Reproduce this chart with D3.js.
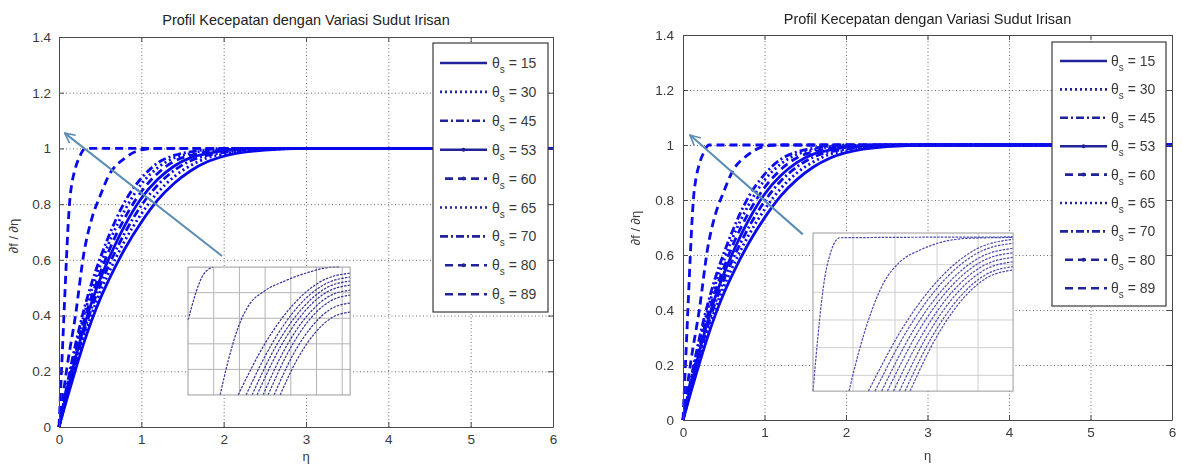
<!DOCTYPE html>
<meta charset="utf-8">
<script src="https://d3js.org/d3.v7.min.js"></script>
<style>
  body { margin: 0; background: #fff; }
  text { font-family: "Liberation Sans", Arial, sans-serif; }
</style>
<body>
  <div id="chart"></div>
</body>
<script>
  // ---- data ----
  const titleText = "Profil Kecepatan dengan Variasi Sudut Irisan";
  const xTicks = [0, 1, 2, 3, 4, 5, 6];
  const yTicks = [0, 0.2, 0.4, 0.6, 0.8, 1, 1.2, 1.4];
  const thetas = [15, 30, 45, 53, 60, 65, 70, 80, 89];

  // shared eta grid for the smooth profiles
  const eta = [0, 0.1, 0.2, 0.3, 0.4, 0.5, 0.6, 0.8, 1.0, 1.2, 1.4, 1.6, 1.8, 2.0, 2.5, 3, 6];
  const v15 = [0, .105, .205, .300, .385, .460, .525, .640, .735, .815, .875, .920, .952, .972, .994, 1, 1];
  const v30 = [0, .113, .219, .319, .408, .485, .551, .669, .765, .842, .899, .939, .966, .979, .996, 1, 1];
  const v45 = [0, .120, .233, .338, .430, .509, .577, .697, .795, .869, .921, .956, .975, .985, .998, 1, 1];
  const v53 = [0, .127, .247, .356, .451, .531, .601, .724, .821, .889, .937, .967, .981, .991, 1, 1, 1];
  const v60 = [0, .135, .262, .377, .472, .553, .628, .751, .845, .911, .954, .975, .987, .995, 1, 1, 1];
  const v65 = [0, .144, .279, .398, .496, .579, .656, .779, .872, .931, .966, .982, .994, .997, 1, 1, 1];
  const v70 = [0, .153, .296, .418, .520, .606, .682, .809, .893, .948, .975, .988, .996, 1, 1, 1, 1];
  const v80 = [0, .220, .400, .620, .750, .830, .900, .965, .995, 1, 1, 1, 1, 1, 1, 1, 1];
  // theta 89 rises much faster, own eta points
  const eta89 = [0, 0.03, 0.06, 0.09, 0.11, 0.13, 0.16, 0.19, 0.25, 0.32, 6];
  const v89 = [0, .20, .40, .60, .72, .81, .88, .92, .97, 1, 1];

  // zoomed inset curves, in inset-relative units (0..1)
  const insetCurvesL = [
    [[0, .586], [.093, .9375], [.154, 1]],
    [[.198, 0], [.249, .273], [.311, .534], [.383, .716], [.465, .807], [.609, .898], [.753, .963], [.877, .998], [.938, 1]],
    [[.309, 0], [.482, .417], [.655, .715], [.827, .893], [1, .953]],
    [[.358, 0], [.519, .403], [.679, .692], [.840, .864], [1, .922]],
    [[.395, 0], [.546, .390], [.698, .668], [.849, .835], [1, .891]],
    [[.426, 0], [.570, .376], [.713, .644], [.857, .805], [1, .859]],
    [[.463, 0], [.597, .359], [.732, .615], [.866, .769], [1, .820]],
    [[.494, 0], [.621, .342], [.747, .586], [.874, .732], [1, .781]],
    [[.531, 0], [.648, .315], [.766, .539], [.883, .674], [1, .719]],
    [[.568, 0], [.676, .284], [.784, .486], [.892, .608], [1, .648]]
  ];
  const insetCurvesR = [
    [[0, 0], [.068, .78], [.135, .97], [1, .975]],
    [[.18, 0], [.227, .239], [.277, .449], [.352, .682], [.435, .818], [.535, .892], [.652, .945], [.768, .966], [1, .972]],
    [[.277, 0], [.458, .420], [.639, .720], [.819, .900], [1, .960]],
    [[.310, 0], [.483, .409], [.655, .701], [.828, .877], [1, .935]],
    [[.343, 0], [.507, .395], [.672, .677], [.836, .847], [1, .903]],
    [[.372, 0], [.529, .383], [.686, .656], [.843, .820], [1, .875]],
    [[.402, 0], [.552, .370], [.701, .635], [.851, .793], [1, .846]],
    [[.432, 0], [.574, .358], [.716, .614], [.858, .767], [1, .818]],
    [[.460, 0], [.595, .344], [.730, .590], [.865, .738], [1, .787]],
    [[.485, 0], [.614, .335], [.743, .575], [.871, .718], [1, .766]]
  ];
  const insetGridXL = [0.1585, 0.317, 0.4755, 0.634, 0.7925, 0.951];
  const insetGridYL = [0.2, 0.4, 0.6, 0.8];
  const insetGridXR = [0.2, 0.41, 0.62, 0.825];
  const insetGridYR = [0.1, 0.275, 0.45, 0.625, 0.8];

  // ---- styles ----
  const dashFor = {
    15: null, 30: "2,3", 45: "8,3,2,3", 53: null, 60: "8,5",
    65: "2,3", 70: "8,3,2,3", 80: "8,5", 89: "8,5"
  };
  const markFor = { 53: true, 60: true, 80: true };

  const series = thetas.map((t, i) => {
    const vals = [v15, v30, v45, v53, v60, v65, v70, v80, v89][i];
    const xs = t === 89 ? eta89 : eta;
    return { theta: t, pts: xs.map((e, j) => [e, vals[j]]) };
  });

  // ---- layout of the two panels ----
  const panels = [
    {
      left: 59, right: 553, top: 37, bottom: 427,
      titleY: 25, xlabY: 461, ylabX: 18, ylabY: 236, tickPad: 4,
      legend: { x: 433, y: 43, w: 115, h: 269, first: 63, step: 28.9, l0: 440, l1: 487, tx: 492 },
      inset: { x0: 1.567, x1: 3.536, y0: 0.115, y1: 0.574, curves: insetCurvesL, gx: insetGridXL, gy: insetGridYL, col: "#30309a", grid: "#b4b4b4" },
      arrow: { x0: 1.98, y0: 0.614, x1: 0.07, y1: 1.055 },
      blur: false
    },
    {
      left: 683, right: 1172, top: 35, bottom: 420,
      titleY: 24, xlabY: 460, ylabX: 640, ylabY: 228, tickPad: 3,
      legend: { x: 1052, y: 42, w: 114, h: 264, first: 61, step: 28.4, l0: 1060, l1: 1107, tx: 1111 },
      inset: { x0: 1.595, x1: 4.05, y0: 0.105, y1: 0.68, curves: insetCurvesR, gx: insetGridXR, gy: insetGridYR, col: "#4a4ab0", grid: "#cfcfcf" },
      arrow: { x0: 1.47, y0: 0.675, x1: 0.086, y1: 1.036 },
      blur: true
    }
  ];

  const W = 1182, H = 467;
  const svg = d3.select("#chart").append("svg")
    .attr("width", W).attr("height", H);

  const defs = svg.append("defs");
  defs.append("filter").attr("id", "soft")
    .append("feGaussianBlur").attr("stdDeviation", 0.45);
  defs.append("marker")
    .attr("id", "head")
    .attr("viewBox", "0 0 12 12")
    .attr("refX", 11).attr("refY", 6)
    .attr("markerWidth", 12).attr("markerHeight", 12)
    .attr("markerUnits", "userSpaceOnUse")
    .attr("orient", "auto")
    .append("path")
    .attr("d", "M1,1 L11,6 L1,11")
    .attr("fill", "none")
    .attr("stroke", "#5b8cb4")
    .attr("stroke-width", 1.6);

  function drawPanel(p) {
    const g = svg.append("g");
    if (p.blur) g.attr("filter", "url(#soft)");

    const x = d3.scaleLinear().domain([0, 6]).range([p.left, p.right]);
    const y = d3.scaleLinear().domain([0, 1.4]).range([p.bottom, p.top]);
    const h = p.bottom - p.top, w = p.right - p.left;

    // dotted grid
    const gx = g.append("g").attr("transform", `translate(0,${p.bottom})`)
      .call(d3.axisBottom(x).tickValues(xTicks.slice(1, -1)).tickSize(-h).tickFormat(""));
    const gy = g.append("g").attr("transform", `translate(${p.left},0)`)
      .call(d3.axisLeft(y).tickValues(yTicks.slice(1, -1)).tickSize(-w).tickFormat(""));
    [gx, gy].forEach(a => {
      a.select(".domain").remove();
      a.selectAll("line").attr("stroke", "#6a6a6a").attr("stroke-dasharray", "1,2.5");
    });

    // profiles
    const line = d3.line().x(d => x(d[0])).y(d => y(d[1])).curve(d3.curveMonotoneX);
    g.append("g").selectAll("path")
      .data(series)
      .join("path")
        .attr("d", d => line(d.pts))
        .attr("fill", "none")
        .attr("stroke", "#0808ec")
        .attr("stroke-width", 2.8)
        .attr("stroke-dasharray", d => dashFor[d.theta]);

    // axes box with inward ticks
    const axes = [
      [d3.axisBottom(x), `translate(0,${p.bottom})`, true],
      [d3.axisTop(x), `translate(0,${p.top})`, false],
      [d3.axisLeft(y), `translate(${p.left},0)`, true],
      [d3.axisRight(y), `translate(${p.right},0)`, false]
    ];
    axes.forEach(([ax, tr, labels], k) => {
      const isX = k < 2;
      ax.tickValues(isX ? xTicks : yTicks).tickSizeInner(-5).tickSizeOuter(0)
        .tickPadding(labels ? (isX ? 7 : 12 - p.tickPad) : 0)
        .tickFormat(labels ? (d => String(+d.toFixed(1))) : "");
      const a = g.append("g").attr("transform", tr).call(ax);
      a.select(".domain").attr("stroke", "#4a4a4a");
      a.selectAll("line").attr("stroke", "#4a4a4a");
      a.selectAll("text").attr("fill", "#3a3a3a").style("font-size", "13.5px")
        .style("font-family", '"Liberation Sans", Arial, sans-serif');
    });

    // inset
    const ins = p.inset;
    const ix = d3.scaleLinear().domain([0, 1]).range([x(ins.x0), x(ins.x1)]);
    const iy = d3.scaleLinear().domain([0, 1]).range([y(ins.y0), y(ins.y1)]);
    const ig = g.append("g");
    ig.append("rect")
      .attr("x", ix(0)).attr("y", iy(1))
      .attr("width", ix(1) - ix(0)).attr("height", iy(0) - iy(1))
      .attr("fill", "#fff");
    ig.selectAll(".gxl").data(ins.gx).join("line")
      .attr("x1", d => ix(d)).attr("x2", d => ix(d))
      .attr("y1", iy(0)).attr("y2", iy(1))
      .attr("stroke", ins.grid);
    ig.selectAll(".gyl").data(ins.gy).join("line")
      .attr("y1", d => iy(d)).attr("y2", d => iy(d))
      .attr("x1", ix(0)).attr("x2", ix(1))
      .attr("stroke", ins.grid);
    const iline = d3.line().x(d => ix(d[0])).y(d => iy(d[1])).curve(d3.curveMonotoneX);
    ig.selectAll("path").data(ins.curves).join("path")
      .attr("d", iline)
      .attr("fill", "none")
      .attr("stroke", ins.col)
      .attr("stroke-width", 1.2)
      .attr("stroke-dasharray", "2.5,1.2");
    ig.append("rect")
      .attr("x", ix(0)).attr("y", iy(1))
      .attr("width", ix(1) - ix(0)).attr("height", iy(0) - iy(1))
      .attr("fill", "none").attr("stroke", "#9a9a9a");

    // arrow
    g.append("line")
      .attr("x1", x(p.arrow.x0)).attr("y1", y(p.arrow.y0))
      .attr("x2", x(p.arrow.x1)).attr("y2", y(p.arrow.y1))
      .attr("stroke", "#5b8cb4").attr("stroke-width", 2)
      .attr("marker-end", "url(#head)");

    // legend
    const L = p.legend;
    g.append("rect")
      .attr("x", L.x).attr("y", L.y).attr("width", L.w).attr("height", L.h)
      .attr("fill", "#fff").attr("stroke", "#3a3a3a").attr("stroke-width", 1.2);
    const le = g.append("g").selectAll("g").data(series).join("g")
      .attr("transform", (d, i) => `translate(0,${L.first + i * L.step})`);
    le.append("line")
      .attr("x1", d => dashFor[d.theta] === "8,5" ? L.l0 + 5 : L.l0).attr("x2", L.l1)
      .attr("stroke", "#22229a").attr("stroke-width", 2.6)
      .attr("stroke-dasharray", d => dashFor[d.theta]);
    le.filter(d => markFor[d.theta]).append("circle")
      .attr("cx", (L.l0 + L.l1) / 2).attr("r", 2)
      .attr("fill", "#22229a");
    const lt = le.append("text")
      .attr("x", L.tx).attr("y", 5)
      .attr("fill", "#3a3a3a").style("font-size", "14px");
    lt.append("tspan").text("θ");
    lt.append("tspan").attr("dy", 5).style("font-size", "10px").text("s");
    lt.append("tspan").attr("dy", -5).text(d => " = " + d.theta);

    // title and axis labels
    g.append("text")
      .attr("x", (p.left + p.right) / 2).attr("y", p.titleY)
      .attr("text-anchor", "middle").attr("fill", "#222")
      .style("font-size", "14.5px").text(titleText);
    g.append("text")
      .attr("x", (p.left + p.right) / 2).attr("y", p.xlabY)
      .attr("text-anchor", "middle").attr("fill", "#3a3a3a")
      .style("font-size", "13px").text("η");
    g.append("text")
      .attr("transform", `translate(${p.ylabX},${p.ylabY}) rotate(-90)`)
      .attr("text-anchor", "middle").attr("fill", "#3a3a3a")
      .style("font-size", "13px").text("∂f / ∂η");
  }

  panels.forEach(drawPanel);
</script>
